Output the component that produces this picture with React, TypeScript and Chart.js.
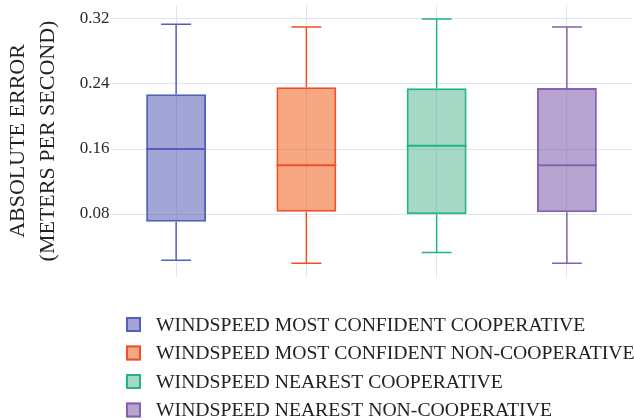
import React, { useEffect, useRef } from "react";
import { Chart, registerables } from "chart.js";

Chart.register(...registerables);

// Box-plot summary per group: lower whisker, Q1, median, Q3, upper whisker
const groups = [
  "WINDSPEED MOST CONFIDENT COOPERATIVE",
  "WINDSPEED MOST CONFIDENT NON-COOPERATIVE",
  "WINDSPEED NEAREST COOPERATIVE",
  "WINDSPEED NEAREST NON-COOPERATIVE",
];
const lowerWhisker = [0.023, 0.0193, 0.0328, 0.0193];
const q1 = [0.0705, 0.0829, 0.0796, 0.0821];
const median = [0.16, 0.14, 0.164, 0.14];
const q3 = [0.2273, 0.236, 0.2347, 0.2351];
const upperWhisker = [0.3135, 0.31, 0.32, 0.31];

const yTicks = [0.08, 0.16, 0.24, 0.32];
const yTitle = ["ABSOLUTE ERROR", "(METERS PER SECOND)"];

const lineColors = ["#5360bd", "#ee5029", "#22b386", "#8462ad"];
const fillColors = [
  "rgba(71, 75, 173, 0.5)",
  "rgba(239, 79, 5, 0.5)",
  "rgba(75, 177, 139, 0.5)",
  "rgba(113, 73, 161, 0.5)",
];

const FONT = "'Liberation Serif', 'Times New Roman', serif";

// Whiskers, caps and median lines drawn over the floating box bars
const boxExtras = {
  id: "boxExtras",
  afterDatasetsDraw(chart: any) {
    const { ctx } = chart;
    const y = chart.scales.y;
    const meta = chart.getDatasetMeta(0);
    meta.data.forEach((bar: any, i: number) => {
      const cx = bar.x;
      const half = bar.width / 2;
      const capHalf = half / 2;
      const yLo = y.getPixelForValue(lowerWhisker[i]);
      const yQ1 = y.getPixelForValue(q1[i]);
      const yMed = y.getPixelForValue(median[i]);
      const yQ3 = y.getPixelForValue(q3[i]);
      const yHi = y.getPixelForValue(upperWhisker[i]);
      ctx.save();
      ctx.strokeStyle = lineColors[i];
      ctx.lineWidth = 1.5;
      ctx.beginPath();
      ctx.moveTo(cx, yQ3);
      ctx.lineTo(cx, yHi);
      ctx.moveTo(cx - capHalf, yHi);
      ctx.lineTo(cx + capHalf, yHi);
      ctx.moveTo(cx, yQ1);
      ctx.lineTo(cx, yLo);
      ctx.moveTo(cx - capHalf, yLo);
      ctx.lineTo(cx + capHalf, yLo);
      ctx.stroke();
      ctx.lineWidth = 2;
      ctx.beginPath();
      ctx.moveTo(cx - half, yMed);
      ctx.lineTo(cx + half, yMed);
      ctx.stroke();
      ctx.restore();
    });
  },
};

// Vertical list legend under the plot
const listLegend = {
  id: "listLegend",
  afterDraw(chart: any) {
    const { ctx } = chart;
    const x0 = 126;
    const top = 324.5;
    const step = 28.5;
    const size = 15;
    ctx.save();
    groups.forEach((name, i) => {
      const cy = top + i * step;
      ctx.fillStyle = "#ffffff";
      ctx.fillRect(x0, cy - size / 2, size, size);
      ctx.fillStyle = fillColors[i];
      ctx.fillRect(x0, cy - size / 2, size, size);
      ctx.strokeStyle = lineColors[i];
      ctx.lineWidth = 2;
      ctx.strokeRect(x0 + 1, cy - size / 2 + 1, size - 2, size - 2);
      ctx.fillStyle = "#222222";
      ctx.font = `19.7px ${FONT}`;
      ctx.textAlign = "left";
      ctx.textBaseline = "middle";
      ctx.fillText(name, 156, cy + 1);
    });
    ctx.restore();
  },
};

export default function App() {
  const canvasRef = useRef<HTMLCanvasElement | null>(null);

  useEffect(() => {
    if (!canvasRef.current) return;
    const chart = new Chart(canvasRef.current, {
      type: "bar",
      data: {
        labels: groups,
        datasets: [
          {
            data: groups.map((_, i) => [q1[i], q3[i]]) as any,
            backgroundColor: fillColors,
            borderColor: lineColors,
            borderWidth: 2,
            borderSkipped: false,
            categoryPercentage: 1,
            barPercentage: 0.46,
          },
        ],
      },
      options: {
        animation: false,
        responsive: false,
        events: [],
        layout: { padding: { top: 5, right: 2, bottom: 143, left: 0 } },
        plugins: {
          legend: { display: false },
          tooltip: { enabled: false },
        },
        scales: {
          x: {
            offset: true,
            grid: {
              offset: false,
              drawTicks: false,
              color: "#dfe5ee",
              lineWidth: 1,
            },
            border: { display: false },
            ticks: { display: false },
            afterFit: (s: any) => {
              s.height = 0;
              s.paddingLeft = 0;
              s.paddingRight = 0;
            },
          },
          y: {
            min: 0.0025,
            max: 0.3372,
            grid: { drawTicks: false, color: "#dfe5ee", lineWidth: 1 },
            border: { display: false },
            afterBuildTicks: (s: any) => {
              s.ticks = yTicks.map((v) => ({ value: v }));
            },
            ticks: {
              padding: 1.5,
              color: "#2a2a2a",
              font: { family: FONT, size: 17 },
              callback: (v: any) => Number(v).toFixed(2),
            },
            title: {
              display: true,
              text: yTitle,
              color: "#222222",
              font: { family: FONT, size: 22, lineHeight: 30 / 22 },
              padding: { top: 3, bottom: 0 },
            },
            afterFit: (s: any) => {
              s.width = 111;
              s.paddingTop = 0;
              s.paddingBottom = 0;
            },
          },
        },
      },
      plugins: [boxExtras, listLegend],
    });
    return () => chart.destroy();
  }, []);

  return (
    <div
      style={{
        position: "fixed",
        left: 0,
        top: 0,
        width: 634,
        height: 420,
        background: "#ffffff",
      }}
    >
      <canvas ref={canvasRef} width={634} height={420} />
    </div>
  );
}
